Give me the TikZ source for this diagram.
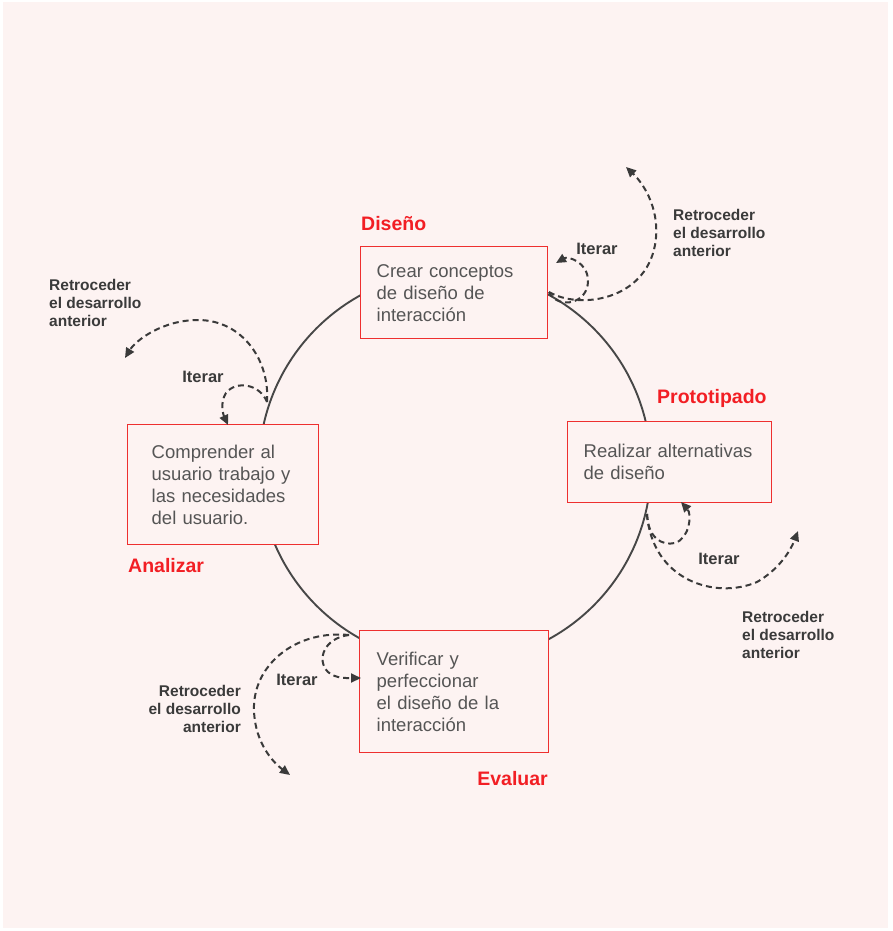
\documentclass[tikz,border=0pt]{standalone}
\usepackage{fontspec}
\setmainfont{Liberation Sans}
\usetikzlibrary{arrows.meta}
\definecolor{bgpink}{HTML}{FDF3F2}
\definecolor{boxred}{HTML}{EE2F2F}
\definecolor{labred}{HTML}{F21E24}
\definecolor{darktext}{HTML}{3A3A3A}
\definecolor{boxtext}{HTML}{555555}
\definecolor{ringgray}{HTML}{474747}
\begin{document}
\begin{tikzpicture}[
    x=1pt, y=-1pt,
    stagebox/.style={draw=boxred, line width=1.4pt, fill=bgpink, anchor=north west,
        inner xsep=16pt, inner ysep=0pt, align=left, text=boxtext,
        font=\fontsize{18.5}{22}\selectfont},
    stagelabel/.style={text=labred, font=\fontsize{19.5}{22}\selectfont\bfseries, inner sep=0pt},
    backlabel/.style={text=darktext, font=\fontsize{15.5}{18}\selectfont\bfseries, inner sep=0pt},
    iterlabel/.style={text=darktext, font=\fontsize{16.5}{18}\selectfont\bfseries, inner sep=0pt},
    iterarrow/.style={-{Triangle[length=10pt, width=9pt]}, draw=darktext, line width=2pt,
        dash pattern=on 6pt off 4pt}
]
    % Page and background
    \useasboundingbox (0,0) rectangle (893,931);
    \fill[white] (0,0) rectangle (893,931);
    \fill[bgpink] (3,2) rectangle (888,928);

    % Cycle
    \coordinate (ring) at (455,467);
    \draw[ringgray, line width=1.9pt] (ring) circle (196pt);

    % Stages
    \node[stagebox, text width=155pt, minimum height=92pt] (diseno) at (360,246)
        {Crear conceptos\\de diseño de\\interacción};
    \node[stagebox, text width=172pt, minimum height=81pt] (proto) at (567,421)
        {Realizar alternativas\\de diseño};
    \node[stagebox, inner xsep=24pt, text width=143pt, minimum height=120pt] (analizar) at (127,424)
        {Comprender al\\usuario trabajo y\\las necesidades\\del usuario.};
    \node[stagebox, inner xsep=17pt, text width=155pt, minimum height=122pt] (evaluar) at (359,630)
        {Verificar y\\perfeccionar\\el diseño de la\\interacción};

    % Stage names
    \node[stagelabel, anchor=west] (disenoname) at (361,224) {Diseño};
    \node[stagelabel, anchor=west] (protoname) at (657,398) {Prototipado};
    \node[stagelabel, anchor=west] (analizarname) at (128,566) {Analizar};
    \node[stagelabel, anchor=east] (evaluarname) at (548,779) {Evaluar};

    % Iterar / Retroceder labels
    \node[iterlabel] (iterdis) at (597,249) {Iterar};
    \node[iterlabel] (iterana) at (203,377) {Iterar};
    \node[iterlabel] (iterpro) at (719,559) {Iterar};
    \node[iterlabel] (itereva) at (297,680) {Iterar};
    \node[backlabel, anchor=west, align=left] (backdis) at (673,233)
        {Retroceder\\el desarrollo\\anterior};
    \node[backlabel, anchor=west, align=left] (backana) at (49,303)
        {Retroceder\\el desarrollo\\anterior};
    \node[backlabel, anchor=west, align=left] (backpro) at (742,635)
        {Retroceder\\el desarrollo\\anterior};
    \node[backlabel, anchor=east, align=right] (backeva) at (241,709)
        {Retroceder\\el desarrollo\\anterior};

    % Loop ends
    \coordinate (disout) at (549,292);
    \coordinate (disloop) at (556,263);
    \coordinate (disback) at (626,167);
    \coordinate (anaout) at (267,402);
    \coordinate (analoop) at (228,425);
    \coordinate (anaback) at (125,358);
    \coordinate (proout) at (647,514);
    \coordinate (proloop) at (681,502);
    \coordinate (proback) at (798,531);
    \coordinate (evaout) at (349,635);
    \coordinate (evaloop) at (361,678);
    \coordinate (evaback) at (290,775);

    % Iterate loops
    \draw[iterarrow] (disout) .. controls (558,310) and (588,304) .. (588,281)
        .. controls (588,262) and (568,256) .. (disloop);
    \draw[iterarrow] (anaout) .. controls (260,384) and (236,380) .. (226,393)
        .. controls (220,402) and (223,414) .. (analoop);
    \draw[iterarrow] (proout) .. controls (648,538) and (662,546) .. (675,543)
        .. controls (690,538) and (692,514) .. (proloop);
    \draw[iterarrow] (evaout) .. controls (324,638) and (316,660) .. (328,672)
        .. controls (336,679) and (348,678) .. (evaloop);

    % Step back arrows
    \draw[iterarrow] (disout) .. controls (580,310) and (645,300) .. (655,245)
        .. controls (661,212) and (645,185) .. (disback);
    \draw[iterarrow] (anaout) .. controls (270,360) and (242,320) .. (198,320)
        .. controls (163,320) and (136,340) .. (anaback);
    \draw[iterarrow] (proout) .. controls (652,580) and (715,600) .. (757,582)
        .. controls (778,570) and (790,552) .. (proback);
    \draw[iterarrow] (evaout) .. controls (298,630) and (256,662) .. (254,705)
        .. controls (253,738) and (270,760) .. (evaback);
\end{tikzpicture}
\end{document}
